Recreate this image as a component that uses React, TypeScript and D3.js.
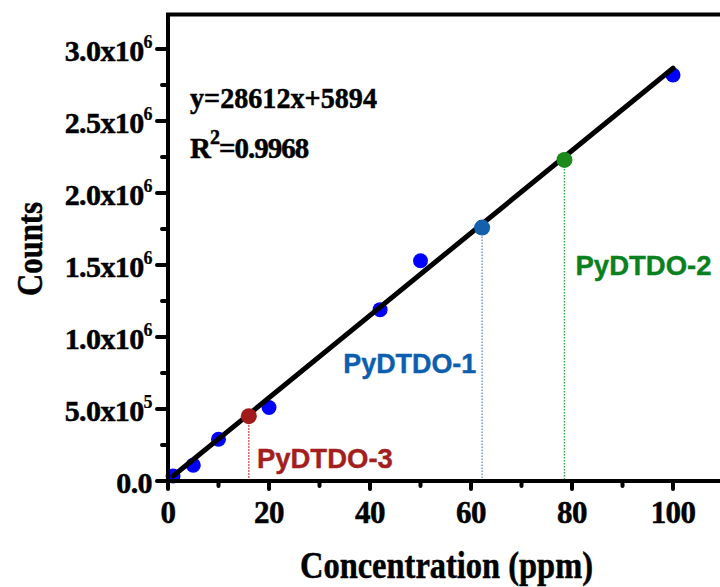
import React, { useEffect, useRef } from "react";
import * as d3 from "d3";

// calibration points (blue)
const concentration = [1, 5, 10, 20, 42, 50, 100];
const counts = [0.035e6, 0.11e6, 0.29e6, 0.51e6, 1.19e6, 1.53e6, 2.82e6];

// samples read on the calibration line
const sampleNames = ["PyDTDO-3", "PyDTDO-1", "PyDTDO-2"];
const sampleConc = [16.0, 62.2, 78.5];
const sampleCounts = [0.45e6, 1.76e6, 2.23e6];
const sampleLabelX = [17.6, 34.7, 80.7];
const sampleLabelY = [0.09e6, 0.75e6, 1.43e6];

const fitSlope = 28612;
const fitIntercept = 5894;
const fitRange = [1, 100];

const xTicks = [0, 20, 40, 60, 80, 100];
const xMinor = [10, 30, 50, 70, 90];
const yTicks = [0, 0.5e6, 1.0e6, 1.5e6, 2.0e6, 2.5e6, 3.0e6];
const yTickMant = ["0.0", "5.0x10", "1.0x10", "1.5x10", "2.0x10", "2.5x10", "3.0x10"];
const yTickExp = ["", "5", "6", "6", "6", "6", "6"];
const yMinor = [0.25e6, 0.75e6, 1.25e6, 1.75e6, 2.25e6, 2.75e6];

const App: React.FC = () => {
  const svgRef = useRef<SVGSVGElement>(null);

  useEffect(() => {
    if (!svgRef.current) return;
    const width = 720;
    const height = 587;
    const serif = "'Liberation Serif', 'Times New Roman', serif";
    const sans = "'Liberation Sans', Arial, sans-serif";

    const svg = d3.select(svgRef.current).attr("width", width).attr("height", height);
    svg.selectAll("*").remove();

    const x = d3.scaleLinear().domain([0, 110]).range([168, 723.5]);
    const y = d3.scaleLinear().domain([0, 3.24e6]).range([481, 14.5]);

    const sampleFill = ["#a11b1b", "#1560ad", "#1b8a1b"];
    const labelFill = ["#a31f1f", "#0d5eae", "#0a801e"];
    const dotLine = ["#cc3333", "#6f9bd6", "#3aa84a"];

    // dotted drop lines
    svg
      .selectAll("line.drop")
      .data(sampleConc)
      .enter()
      .append("line")
      .attr("x1", (d) => x(d))
      .attr("x2", (d) => x(d))
      .attr("y1", (d, i) => y(sampleCounts[i]))
      .attr("y2", y(0))
      .attr("stroke", (d, i) => dotLine[i])
      .attr("stroke-width", 1.5)
      .attr("stroke-dasharray", "1.5,1.5");

    // blue points
    svg
      .selectAll("circle.cal")
      .data(concentration)
      .enter()
      .append("circle")
      .attr("cx", (d) => x(d))
      .attr("cy", (d, i) => y(counts[i]))
      .attr("r", 7.5)
      .attr("fill", "#0000ff");

    // fit line
    svg
      .append("line")
      .attr("x1", x(fitRange[0]))
      .attr("y1", y(fitSlope * fitRange[0] + fitIntercept))
      .attr("x2", x(fitRange[1]))
      .attr("y2", y(fitSlope * fitRange[1] + fitIntercept))
      .attr("stroke", "#000")
      .attr("stroke-width", 5)
      .attr("stroke-linecap", "round");

    // sample points
    svg
      .selectAll("circle.sample")
      .data(sampleConc)
      .enter()
      .append("circle")
      .attr("cx", (d) => x(d))
      .attr("cy", (d, i) => y(sampleCounts[i]))
      .attr("r", 8)
      .attr("fill", (d, i) => sampleFill[i]);

    // sample labels
    const labelW = [136, 133, 136];
    svg
      .selectAll("text.sample")
      .data(sampleNames)
      .enter()
      .append("text")
      .attr("x", (d, i) => x(sampleLabelX[i]))
      .attr("y", (d, i) => y(sampleLabelY[i]))
      .attr("font-family", sans)
      .attr("font-weight", "bold")
      .attr("font-size", 28)
      .attr("textLength", (d, i) => labelW[i])
      .attr("lengthAdjust", "spacingAndGlyphs")
      .attr("fill", (d, i) => labelFill[i])
      .attr("stroke", (d, i) => labelFill[i])
      .attr("stroke-width", 0.4)
      .text((d) => d);

    // frame
    svg
      .append("path")
      .attr("d", `M${x(110)},${y(3.24e6)}H${x(0)}V${y(0)}H${x(110)}`)
      .attr("fill", "none")
      .attr("stroke", "#000")
      .attr("stroke-width", 4)
      .attr("stroke-linecap", "square");

    // y ticks
    svg
      .selectAll("line.ymaj")
      .data(yTicks)
      .enter()
      .append("line")
      .attr("x1", x(0) - 11)
      .attr("x2", x(0))
      .attr("y1", (d) => y(d))
      .attr("y2", (d) => y(d))
      .attr("stroke", "#000")
      .attr("stroke-width", 4)
      .attr("stroke-linecap", "round");
    svg
      .selectAll("line.ymin")
      .data(yMinor)
      .enter()
      .append("line")
      .attr("x1", x(0) - 6)
      .attr("x2", x(0))
      .attr("y1", (d) => y(d))
      .attr("y2", (d) => y(d))
      .attr("stroke", "#000")
      .attr("stroke-width", 4)
      .attr("stroke-linecap", "round");

    const ylab = svg
      .selectAll("text.ytick")
      .data(yTicks)
      .enter()
      .append("text")
      .attr("x", 152)
      .attr("y", (d) => y(d) + 12)
      .attr("text-anchor", "end")
      .attr("font-family", serif)
      .attr("font-weight", "bold")
      .attr("font-size", 30)
      .attr("letter-spacing", -0.6)
      .attr("stroke", "#000")
      .attr("stroke-width", 0.5);
    ylab.append("tspan").text((d, i) => yTickMant[i]);
    ylab
      .append("tspan")
      .attr("dy", -13)
      .attr("font-size", 18)
      .attr("stroke-width", 0.2)
      .text((d, i) => yTickExp[i]);

    // x ticks
    svg
      .selectAll("line.xmaj")
      .data(xTicks)
      .enter()
      .append("line")
      .attr("x1", (d) => x(d))
      .attr("x2", (d) => x(d))
      .attr("y1", y(0))
      .attr("y2", y(0) + 8)
      .attr("stroke", "#000")
      .attr("stroke-width", 4)
      .attr("stroke-linecap", "round");
    svg
      .selectAll("line.xmin")
      .data(xMinor)
      .enter()
      .append("line")
      .attr("x1", (d) => x(d))
      .attr("x2", (d) => x(d))
      .attr("y1", y(0))
      .attr("y2", y(0) + 5)
      .attr("stroke", "#000")
      .attr("stroke-width", 4)
      .attr("stroke-linecap", "round");

    svg
      .selectAll("text.xtick")
      .data(xTicks)
      .enter()
      .append("text")
      .attr("x", (d) => x(d))
      .attr("y", 523)
      .attr("text-anchor", "middle")
      .attr("font-family", serif)
      .attr("font-weight", "bold")
      .attr("font-size", 31)
      .attr("letter-spacing", -0.6)
      .attr("stroke", "#000")
      .attr("stroke-width", 0.5)
      .text((d) => d);

    // axis titles
    svg
      .append("text")
      .attr("x", 300)
      .attr("y", 578)
      .attr("font-family", serif)
      .attr("font-weight", "bold")
      .attr("font-size", 37)
      .attr("textLength", 293)
      .attr("lengthAdjust", "spacingAndGlyphs")
      .attr("stroke", "#000")
      .attr("stroke-width", 0.5)
      .text("Concentration (ppm)");

    svg
      .append("text")
      .attr("transform", "translate(42,296) rotate(-90)")
      .attr("font-family", serif)
      .attr("font-weight", "bold")
      .attr("font-size", 35)
      .attr("textLength", 94)
      .attr("lengthAdjust", "spacingAndGlyphs")
      .attr("stroke", "#000")
      .attr("stroke-width", 0.5)
      .text("Counts");

    // fit annotation
    svg
      .append("text")
      .attr("x", 190)
      .attr("y", 108)
      .attr("font-family", serif)
      .attr("font-weight", "bold")
      .attr("font-size", 29)
      .attr("textLength", 187)
      .attr("lengthAdjust", "spacingAndGlyphs")
      .attr("stroke", "#000")
      .attr("stroke-width", 0.5)
      .text(`y=${fitSlope}x+${fitIntercept}`);

    const r2 = svg
      .append("text")
      .attr("x", 190)
      .attr("y", 158)
      .attr("font-family", serif)
      .attr("font-weight", "bold")
      .attr("font-size", 29)
      .attr("letter-spacing", -1)
      .attr("stroke", "#000")
      .attr("stroke-width", 0.5);
    r2.append("tspan").text("R");
    r2.append("tspan").attr("dy", -14).attr("font-size", 20).text("2");
    r2.append("tspan").attr("dy", 14).text("=0.9968");
  }, []);

  return (
    <svg
      ref={svgRef}
      style={{ position: "absolute", left: 0, top: 0, display: "block", background: "#fff" }}
    ></svg>
  );
};

export default App;
